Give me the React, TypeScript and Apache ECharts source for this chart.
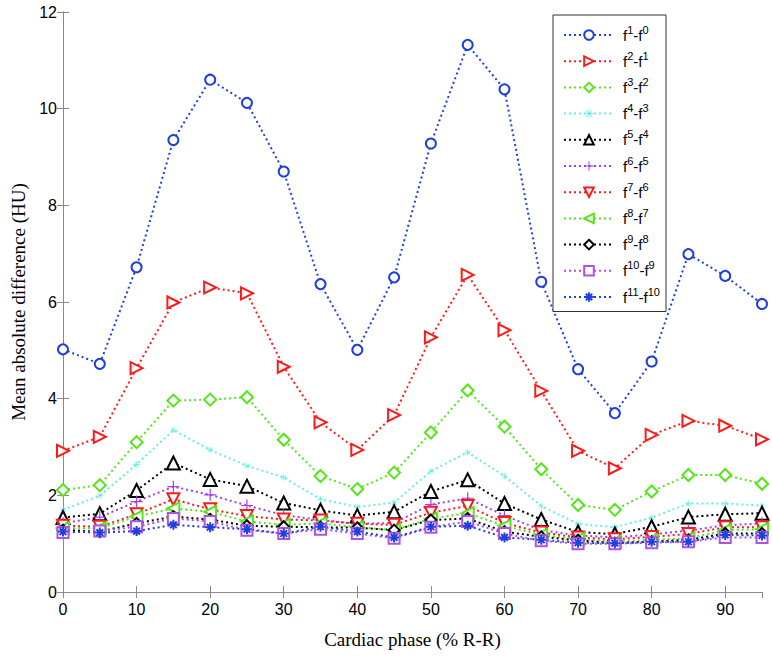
import React, { useEffect, useRef } from "react";
import * as echarts from "echarts";

const phases = [0, 5, 10, 15, 20, 25, 30, 35, 40, 45, 50, 55, 60, 65, 70, 75, 80, 85, 90, 95];

const f1f0 = [5.02, 4.72, 6.72, 9.35, 10.6, 10.12, 8.7, 6.37, 5.01, 6.51, 9.28, 11.32, 10.4, 6.42, 4.61, 3.7, 4.77, 6.99, 6.54, 5.96];
const f2f1 = [2.92, 3.21, 4.63, 5.99, 6.3, 6.18, 4.66, 3.51, 2.94, 3.66, 5.27, 6.56, 5.42, 4.16, 2.92, 2.56, 3.25, 3.54, 3.44, 3.16];
const f3f2 = [2.11, 2.21, 3.1, 3.96, 3.98, 4.03, 3.15, 2.4, 2.13, 2.47, 3.3, 4.17, 3.42, 2.54, 1.8, 1.7, 2.08, 2.42, 2.42, 2.24];
const f4f3 = [1.7, 1.99, 2.64, 3.35, 2.94, 2.61, 2.37, 1.92, 1.76, 1.85, 2.5, 2.89, 2.4, 1.78, 1.41, 1.34, 1.54, 1.83, 1.83, 1.79];
const f5f4 = [1.54, 1.62, 2.1, 2.67, 2.33, 2.19, 1.84, 1.69, 1.58, 1.66, 2.08, 2.32, 1.83, 1.5, 1.24, 1.2, 1.35, 1.55, 1.61, 1.63];
const f6f5 = [1.42, 1.55, 1.87, 2.18, 2.01, 1.79, 1.59, 1.49, 1.41, 1.43, 1.81, 1.94, 1.58, 1.28, 1.17, 1.13, 1.19, 1.27, 1.38, 1.42];
const f7f6 = [1.37, 1.35, 1.61, 1.92, 1.71, 1.57, 1.5, 1.48, 1.41, 1.39, 1.64, 1.78, 1.43, 1.23, 1.13, 1.09, 1.14, 1.2, 1.34, 1.34];
const f8f7 = [1.32, 1.32, 1.56, 1.73, 1.66, 1.46, 1.39, 1.42, 1.34, 1.28, 1.52, 1.63, 1.37, 1.18, 1.1, 1.04, 1.08, 1.11, 1.28, 1.3];
const f9f8 = [1.28, 1.25, 1.42, 1.56, 1.5, 1.37, 1.35, 1.34, 1.33, 1.28, 1.49, 1.52, 1.25, 1.14, 1.07, 1.01, 1.04, 1.08, 1.21, 1.21];
const f10f9 = [1.23, 1.26, 1.35, 1.52, 1.46, 1.28, 1.21, 1.3, 1.21, 1.11, 1.34, 1.46, 1.21, 1.06, 1.0, 1.0, 1.02, 1.04, 1.13, 1.13];
const f11f10 = [1.25, 1.23, 1.26, 1.39, 1.34, 1.3, 1.21, 1.35, 1.25, 1.13, 1.35, 1.37, 1.13, 1.08, 1.02, 1.01, 1.04, 1.04, 1.18, 1.17];

const seriesNames = ["f1-f0", "f2-f1", "f3-f2", "f4-f3", "f5-f4", "f6-f5", "f7-f6", "f8-f7", "f9-f8", "f10-f9", "f11-f10"];
const seriesValues = [f1f0, f2f1, f3f2, f4f3, f5f4, f6f5, f7f6, f8f7, f9f8, f10f9, f11f10];

const yTicks = [0, 2, 4, 6, 8, 10, 12];
const xTicks = [0, 10, 20, 30, 40, 50, 60, 70, 80, 90];

const PLUS = "path://M9,0H11V9H20V11H11V20H9V11H0V9H9Z";
const ASTER =
  "path://M9.2,0H10.8V20H9.2Z M0,9.2H20V10.8H0Z M2.6,3.7L3.7,2.6L17.4,16.3L16.3,17.4Z M16.3,2.6L17.4,3.7L3.7,17.4L2.6,16.3Z";
const ASTER_BOLD =
  "path://M8,0H12V20H8Z M0,8H20V12H0Z M1.9,4.7L4.7,1.9L18.1,15.3L15.3,18.1Z M15.3,1.9L18.1,4.7L4.7,18.1L1.9,15.3Z";

const styles = [
  { color: "#1f3fe0", symbol: "emptyCircle", size: 10, rotate: 0 },
  { color: "#ff1a1a", symbol: "emptyTriangle", size: 12, rotate: -90 },
  { color: "#55e61a", symbol: "emptyDiamond", size: 12, rotate: 0 },
  { color: "#66eee4", symbol: ASTER, size: 7, rotate: 0 },
  { color: "#000000", symbol: "emptyTriangle", size: 13, rotate: 0 },
  { color: "#a040f0", symbol: PLUS, size: 12, rotate: 0 },
  { color: "#ff1a1a", symbol: "emptyTriangle", size: 12, rotate: 180 },
  { color: "#55e61a", symbol: "emptyTriangle", size: 12, rotate: 90 },
  { color: "#000000", symbol: "emptyDiamond", size: 11, rotate: 0 },
  { color: "#b050e8", symbol: "emptyRect", size: 11, rotate: 0 },
  { color: "#1f3fe0", symbol: ASTER_BOLD, size: 10, rotate: 0 },
];

const AXIS_GRAY = "#8a8a8a";

export default function App() {
  const ref = useRef<HTMLDivElement>(null);

  useEffect(() => {
    if (!ref.current) return;
    const chart = echarts.init(ref.current, undefined, { renderer: "svg" });

    const series = seriesNames.map((name, i) => ({
      name,
      type: "line",
      data: phases.map((p, j) => [p, seriesValues[i][j]]),
      symbol: styles[i].symbol,
      symbolSize: styles[i].size,
      symbolRotate: styles[i].rotate,
      showAllSymbol: true,
      color: styles[i].color,
      lineStyle: { color: styles[i].color, width: 2, type: [2, 3] },
      itemStyle: { color: styles[i].color, borderWidth: 1.6 },
      emphasis: { disabled: true },
      z: 2,
    }));

    const legendFormatter = (name: string) => {
      const m = /^f(\d+)-f(\d+)$/.exec(name);
      if (!m) return name;
      return `{b|f}{s|${m[1]}}{b|-f}{s|${m[2]}}`;
    };

    const tickCommon = {
      show: true,
      inside: true,
      length: 6,
      lineStyle: { color: AXIS_GRAY, width: 1 },
    };

    chart.setOption({
      animation: false,
      backgroundColor: "#ffffff",
      grid: { left: 63, right: 10, top: 12, bottom: 65, containLabel: false },
      xAxis: [
        {
          type: "value",
          min: 0,
          max: 95,
          interval: 10,
          position: "bottom",
          name: "Cardiac phase (% R-R)",
          nameLocation: "middle",
          nameGap: 38,
          nameTextStyle: { fontFamily: "Liberation Serif", fontSize: 19, color: "#000" },
          axisLine: { show: true, lineStyle: { color: AXIS_GRAY, width: 1 } },
          axisTick: tickCommon,
          axisLabel: {
            color: "#000",
            fontFamily: "Liberation Sans",
            fontSize: 16,
            margin: 9,
            showMaxLabel: false,
            formatter: (v: number) => (xTicks.includes(v) ? String(v) : ""),
          },
          splitLine: { show: false },
        },
        {
          type: "value",
          min: 0,
          max: 95,
          interval: 10,
          position: "top",
          axisLine: { show: true, lineStyle: { color: AXIS_GRAY, width: 1 } },
          axisTick: tickCommon,
          axisLabel: { show: false },
          splitLine: { show: false },
        },
      ],
      yAxis: [
        {
          type: "value",
          min: 0,
          max: 12,
          interval: 2,
          position: "left",
          name: "Mean absolute difference (HU)",
          nameLocation: "middle",
          nameGap: 32,
          nameTextStyle: { fontFamily: "Liberation Serif", fontSize: 19, color: "#000" },
          axisLine: { show: true, lineStyle: { color: AXIS_GRAY, width: 1 } },
          axisTick: tickCommon,
          axisLabel: {
            color: "#000",
            fontFamily: "Liberation Sans",
            fontSize: 16,
            margin: 6,
            formatter: (v: number) => (yTicks.includes(v) ? String(v) : ""),
          },
          splitLine: { show: false },
        },
        {
          type: "value",
          min: 0,
          max: 12,
          interval: 2,
          position: "right",
          axisLine: { show: true, lineStyle: { color: AXIS_GRAY, width: 1 } },
          axisTick: tickCommon,
          axisLabel: { show: false },
          splitLine: { show: false },
        },
      ],
      legend: {
        orient: "vertical",
        left: 553,
        top: 15,
        width: 121,
        padding: [9, 6, 7, 10],
        itemGap: 7.7,
        itemWidth: 50,
        itemHeight: 12,
        backgroundColor: "#ffffff",
        borderColor: "#333333",
        borderWidth: 1,
        borderRadius: 0,
        selectedMode: false,
        data: seriesNames,
        formatter: legendFormatter,
        z: 10,
        textStyle: {
          color: "#000",
          fontFamily: "Liberation Sans",
          fontSize: 15,
          padding: [0, 0, 0, 4],
          rich: {
            b: { fontFamily: "Liberation Sans", fontSize: 15, lineHeight: 22, color: "#000" },
            s: {
              fontFamily: "Liberation Sans",
              fontSize: 11,
              lineHeight: 11,
              verticalAlign: "top",
              color: "#000",
            },
          },
        },
      },
      series,
    });

    return () => chart.dispose();
  }, []);

  return (
    <div
      ref={ref}
      style={{ position: "fixed", left: 0, top: 0, width: 772, height: 657, background: "#fff" }}
    />
  );
}
